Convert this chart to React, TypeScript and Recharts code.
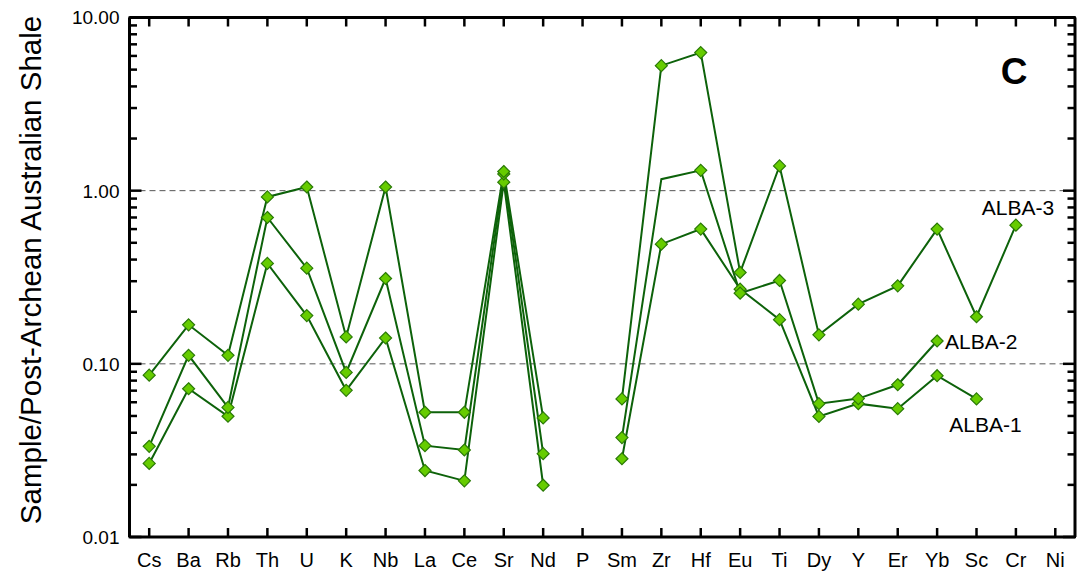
import React from 'react';
import { LineChart, Line, XAxis, YAxis, ReferenceLine, LabelList } from 'recharts';

const elements = ['Cs', 'Ba', 'Rb', 'Th', 'U', 'K', 'Nb', 'La', 'Ce', 'Sr', 'Nd', 'P', 'Sm', 'Zr', 'Hf', 'Eu', 'Ti', 'Dy', 'Y', 'Er', 'Yb', 'Sc', 'Cr', 'Ni'];

const alba1 = [0.0266, 0.0718, 0.0498, 0.38, 0.19, 0.0703, 0.141, 0.0242, 0.0211, 1.12, 0.0199, null, 0.0283, 0.491, 0.6, 0.27, 0.18, 0.0497, 0.0589, 0.0551, 0.0854, 0.0627, null, null];
const alba2 = [0.0334, 0.112, 0.056, 0.7, 0.357, 0.0892, 0.311, 0.0337, 0.0318, 1.25, 0.0303, null, 0.0375, 1.165, 1.31, 0.256, 0.303, 0.0589, 0.063, 0.0757, 0.1355, null, null, null];
const alba3 = [0.086, 0.168, 0.112, 0.92, 1.05, 0.143, 1.05, 0.0525, 0.0525, 1.29, 0.0487, null, 0.0627, 5.27, 6.27, 0.337, 1.39, 0.147, 0.221, 0.282, 0.6, 0.187, 0.632, null];

const seriesNames = ['ALBA-1', 'ALBA-2', 'ALBA-3'];
const seriesValues = [alba1, alba2, alba3];
const hiddenMarkers: Record<string, string[]> = { 'ALBA-2': ['Zr'] };
const labelAt: Record<string, string> = { 'ALBA-1': 'Sc', 'ALBA-2': 'Yb', 'ALBA-3': 'Cr' };

const majorTicks = [0.01, 0.1, 1, 10];
const minorTicks = [0.02, 0.03, 0.04, 0.05, 0.06, 0.07, 0.08, 0.09, 0.2, 0.3, 0.4, 0.5, 0.6, 0.7, 0.8, 0.9, 2, 3, 4, 5, 6, 7, 8, 9];
const allYTicks = [...majorTicks, ...minorTicks].sort((a, b) => a - b);
const gridValues = [0.1, 1];
const yTitle = 'Sample/Post-Archean Australian Shale';
const panelLabel = 'C';

const rows = elements.map((el, i) => {
  const r: any = { el };
  seriesNames.forEach((n, k) => { r[n] = seriesValues[k][i]; });
  return r;
});

const FONT = '"Liberation Sans", Arial, sans-serif';
const LINE = '#0d620a';
const FILL = '#66cc00';
const MSTROKE = '#2a7a06';
const TICK = '#000';

const isMajor = (v: number) => majorTicks.some((m) => Math.abs(m - v) < 1e-9);

const BottomTick = (p: any) => (
  <g>
    <path d={`M${p.x},${p.y}v-9`} stroke={TICK} strokeWidth={2.5} fill="none" />
    <text x={p.x} y={p.y + 30} textAnchor="middle" fontSize={20} fontFamily={FONT} fill="#000">{p.payload.value}</text>
  </g>
);
const TopTick = (p: any) => (
  <path d={`M${p.x},${p.y}v9`} stroke={TICK} strokeWidth={2.5} fill="none" />
);
const LeftTick = (p: any) => {
  const v = Number(p.payload.value);
  const major = isMajor(v);
  return (
    <g>
      <path d={`M${p.x - 1},${p.y}h${major ? 13 : 8.5}`} stroke={TICK} strokeWidth={2.5} fill="none" />
      {major ? (
        <text x={p.x - 10} y={p.y} dy="0.36em" textAnchor="end" fontSize={19} fontFamily={FONT} fill="#000">{v.toFixed(2)}</text>
      ) : null}
    </g>
  );
};
const RightTick = (p: any) => {
  const v = Number(p.payload.value);
  const major = isMajor(v);
  return <path d={`M${p.x + 1},${p.y}h${major ? -13 : -8.5}`} stroke={TICK} strokeWidth={2.5} fill="none" />;
};

const makeDot = (name: string) => (props: any) => {
  const { cx, cy, payload, index } = props;
  const key = `d-${name}-${index}`;
  if (cx == null || cy == null || payload == null || payload[name] == null) return <g key={key} />;
  if ((hiddenMarkers[name] || []).includes(payload.el)) return <g key={key} />;
  const r = 6;
  return (
    <path key={key} d={`M${cx},${cy - r}L${cx + r},${cy}L${cx},${cy + r}L${cx - r},${cy}Z`} fill={FILL} stroke={MSTROKE} strokeWidth={1.2} />
  );
};

const labelOffsets: Record<string, { dx: number; dy: number; anchor: 'start' | 'middle' | 'end' }> = {
  'ALBA-1': { dx: 9, dy: 33, anchor: 'middle' },
  'ALBA-2': { dx: 8, dy: 8.5, anchor: 'start' },
  'ALBA-3': { dx: 2, dy: -10, anchor: 'middle' },
};

const makeLabel = (name: string) => (props: any) => {
  const idx = elements.indexOf(labelAt[name]);
  if (props.index !== idx || props.x == null || props.y == null) return null;
  const o = labelOffsets[name];
  return (
    <text key={`lab-${name}`} x={props.x + o.dx} y={props.y + o.dy} textAnchor={o.anchor} fontSize={21} fontFamily={FONT} fill="#000">{name}</text>
  );
};

export default function App() {
  const axisLine = { stroke: '#000', strokeWidth: 3 };
  return (
    <div style={{ position: 'absolute', left: 0, top: 0, width: 1077, height: 576, background: '#fff' }}>
      <LineChart width={1077} height={576} data={rows} margin={{ top: 7.5, right: 0, bottom: 0, left: 0 }}>
        <XAxis xAxisId="b" dataKey="el" type="category" height={39} interval={0} padding={{ left: 19.7, right: 19.7 }} tickSize={0} tickMargin={0} tickLine={false} axisLine={axisLine} tick={<BottomTick />} />
        <XAxis xAxisId="t" dataKey="el" type="category" orientation="top" height={10} interval={0} padding={{ left: 19.7, right: 19.7 }} tickSize={0} tickMargin={0} tickLine={false} axisLine={axisLine} tickFormatter={() => ''} tick={<TopTick />} />
        <YAxis yAxisId="l" type="number" scale="log" domain={[0.01, 10]} allowDataOverflow ticks={allYTicks} interval={0} width={129.5} tickSize={0} tickMargin={0} tickLine={false} axisLine={axisLine} tickFormatter={() => ''} tick={<LeftTick />} />
        <YAxis yAxisId="r" orientation="right" type="number" scale="log" domain={[0.01, 10]} allowDataOverflow ticks={allYTicks} interval={0} width={2} tickSize={0} tickMargin={0} tickLine={false} axisLine={axisLine} tickFormatter={() => ''} tick={<RightTick />} />
        {gridValues.map((g) => (
          <ReferenceLine key={`g${g}`} xAxisId="b" yAxisId="l" y={g} stroke="#555" strokeWidth={1} strokeDasharray="6 4" />
        ))}
        {seriesNames.map((n) => (
          <Line key={n} xAxisId="b" yAxisId="l" dataKey={n} stroke={LINE} strokeWidth={2} connectNulls={false} isAnimationActive={false} dot={makeDot(n)} activeDot={false}>
            <LabelList dataKey={n} content={makeLabel(n)} />
          </Line>
        ))}
        <Line xAxisId="t" yAxisId="r" dataKey={seriesNames[2]} stroke="none" dot={false} activeDot={false} isAnimationActive={false} legendType="none" />
      </LineChart>
      <svg width={1077} height={576} style={{ position: 'absolute', left: 0, top: 0, pointerEvents: 'none' }}>
        <text x={31} y={270} transform="rotate(-90 31 270)" textAnchor="middle" dy="0.35em" fontSize={29.5} fontFamily={FONT} fill="#000">{yTitle}</text>
        <text x={1014} y={84} textAnchor="middle" fontSize={37} fontWeight="bold" fontFamily={FONT} fill="#000">{panelLabel}</text>
      </svg>
    </div>
  );
}
